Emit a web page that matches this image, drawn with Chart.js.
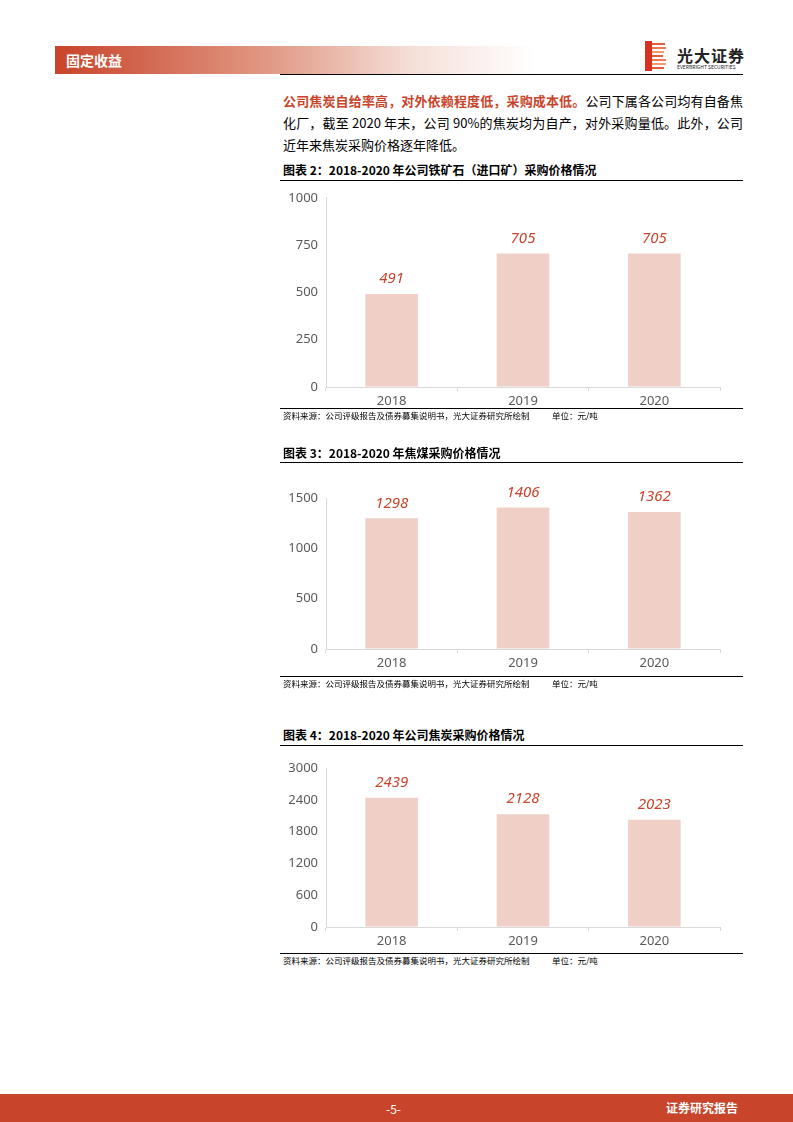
<!DOCTYPE html>
<html>
<head>
<meta charset="utf-8">
<script src="https://cdn.jsdelivr.net/npm/chart.js@4.4.1/dist/chart.umd.min.js"></script>
<style>
    body { margin: 0; width: 793px; height: 1122px; position: relative; background: #fff; font-family: "Noto Sans CJK SC", "Noto Sans", sans-serif; overflow: hidden; }
    .abs { position: absolute; }
    .band { left: 55px; top: 46px; width: 480px; height: 28px; background: linear-gradient(to right, #c8442a 0%, #e09a86 45%, #f6e0da 75%, #ffffff 100%); }
    .band span { position: absolute; left: 11px; top: 4px; color: #fff; font-weight: bold; font-size: 14px; }
    .topline { left: 280px; top: 74px; width: 463px; height: 1px; background: #000; }
    .para { left: 283px; top: 90px; width: 460px; font-size: 13px; line-height: 22px; color: #000; text-align: justify; }
    .para b { color: #c8442a; }
    .title { left: 283px; font-size: 12px; font-weight: bold; color: #000; }
    .rule { left: 280px; width: 463px; height: 1px; background: #000; }
    .src { left: 283px; font-size: 8.5px; color: #000; }
    .src span { position: absolute; left: 269px; white-space: nowrap; }
    .foot { left: 0; top: 1094px; width: 793px; height: 28px; background: #c8442a; color: #fff; font-size: 12px; }
    canvas { position: absolute; }
</style>
</head>
<body>
<div class="abs band"><span>固定收益</span></div>
<div class="abs" style="left:645px;top:41px;width:22px;height:30px;">
    <svg width="22" height="30" viewBox="0 0 22 30">
        <rect x="0" y="0" width="7" height="30" fill="#d9301f"/>
        <rect x="7" y="2" width="13" height="2" fill="#e85a3c"/>
        <rect x="7" y="6" width="14" height="2" fill="#ef7a55"/>
        <rect x="7" y="10" width="12" height="2" fill="#f29a6a"/>
        <rect x="7" y="14" width="11" height="2" fill="#e85a3c"/>
        <rect x="7" y="18" width="14" height="2" fill="#ef7a55"/>
        <rect x="7" y="22" width="14" height="2" fill="#f29a6a"/>
        <rect x="7" y="26" width="12" height="2" fill="#e85a3c"/>
    </svg>
</div>
<div class="abs" style="left:677px;top:43px;font-size:16px;font-weight:bold;color:#222;letter-spacing:1px;">光大证券</div>
<div class="abs" style="left:677px;top:63px;font-size:5px;color:#222;white-space:nowrap;">EVERBRIGHT SECURITIES</div>
<div class="abs topline"></div>

<div class="abs para"><b>公司焦炭自给率高，对外依赖程度低，采购成本低。</b>公司下属各公司均有自备焦化厂，截至 2020 年末，公司 90%的焦炭均为自产，对外采购量低。此外，公司近年来焦炭采购价格逐年降低。</div>

<div class="abs title" style="top:161px;">图表 2：2018-2020 年公司铁矿石（进口矿）采购价格情况</div>
<div class="abs rule" style="top:180px;"></div>
<canvas id="c1" width="463" height="227" style="left:280px;top:182px;"></canvas>
<div class="abs rule" style="top:408px;"></div>
<div class="abs src" style="top:409px;">资料来源：公司评级报告及债券募集说明书，光大证券研究所绘制<span>单位：元/吨</span></div>

<div class="abs title" style="top:444px;">图表 3：2018-2020 年焦煤采购价格情况</div>
<div class="abs rule" style="top:462px;"></div>
<canvas id="c2" width="463" height="207" style="left:280px;top:464px;"></canvas>
<div class="abs rule" style="top:676px;"></div>
<div class="abs src" style="top:677px;">资料来源：公司评级报告及债券募集说明书，光大证券研究所绘制<span>单位：元/吨</span></div>

<div class="abs title" style="top:726px;">图表 4：2018-2020 年公司焦炭采购价格情况</div>
<div class="abs rule" style="top:745px;"></div>
<canvas id="c3" width="463" height="202" style="left:280px;top:747px;"></canvas>
<div class="abs rule" style="top:953px;"></div>
<div class="abs src" style="top:954px;">资料来源：公司评级报告及债券募集说明书，光大证券研究所绘制<span>单位：元/吨</span></div>

<div class="abs foot">
    <span style="position:absolute;left:386px;top:6px;">-5-</span>
    <span style="position:absolute;left:666px;top:5px;font-weight:bold;">证券研究报告</span>
</div>

<script>
const years = ['2018', '2019', '2020'];
const ironOrePrice = [491, 705, 705];
const cokingCoalPrice = [1298, 1406, 1362];
const cokePrice = [2439, 2128, 2023];

// draws the value above each bar
const valueLabels = {
    id: 'valueLabels',
    afterDatasetsDraw(chart) {
        const ctx = chart.ctx;
        const meta = chart.getDatasetMeta(0);
        ctx.save();
        ctx.fillStyle = '#c8442a';
        ctx.font = 'italic 15px "Noto Sans", sans-serif';
        ctx.textAlign = 'center';
        ctx.textBaseline = 'middle';
        meta.data.forEach(function(bar, i) {
            ctx.fillText(chart.data.datasets[0].data[i], bar.x, bar.y - 15);
        });
        ctx.restore();
    }
};

function buildConfig(values, padTop, maxY, step) {
    return {
        type: 'bar',
        data: {
            labels: years,
            datasets: [{
                data: values,
                backgroundColor: '#f0cfc6',
                categoryPercentage: 0.4,
                barPercentage: 1.0
            }]
        },
        options: {
            responsive: false,
            animation: false,
            layout: { padding: { top: padTop, right: 23, bottom: 0, left: 0 } },
            plugins: {
                legend: { display: false },
                tooltip: { enabled: false }
            },
            scales: {
                x: {
                    grid: { drawOnChartArea: false, drawTicks: true, tickLength: 4, color: '#d9d9d9' },
                    border: { color: '#d9d9d9' },
                    ticks: { color: '#595959', font: { family: 'Noto Sans', size: 13 }, padding: 2 },
                    afterFit: function(scale) { scale.height = 22; }
                },
                y: {
                    min: 0,
                    max: maxY,
                    grid: { drawOnChartArea: false, drawTicks: false },
                    border: { color: '#d9d9d9' },
                    ticks: {
                        stepSize: step,
                        color: '#595959',
                        font: { family: 'Noto Sans', size: 13 },
                        padding: 8,
                        callback: function(v) { return String(v); }
                    },
                    afterFit: function(scale) { scale.width = 46; }
                }
            }
        },
        plugins: [valueLabels]
    };
}

new Chart(document.getElementById('c1'), buildConfig(ironOrePrice, 10, 1000, 250));
new Chart(document.getElementById('c2'), buildConfig(cokingCoalPrice, 34, 1500, 500));
new Chart(document.getElementById('c3'), buildConfig(cokePrice, 21, 3000, 600));
</script>
</body>
</html>
